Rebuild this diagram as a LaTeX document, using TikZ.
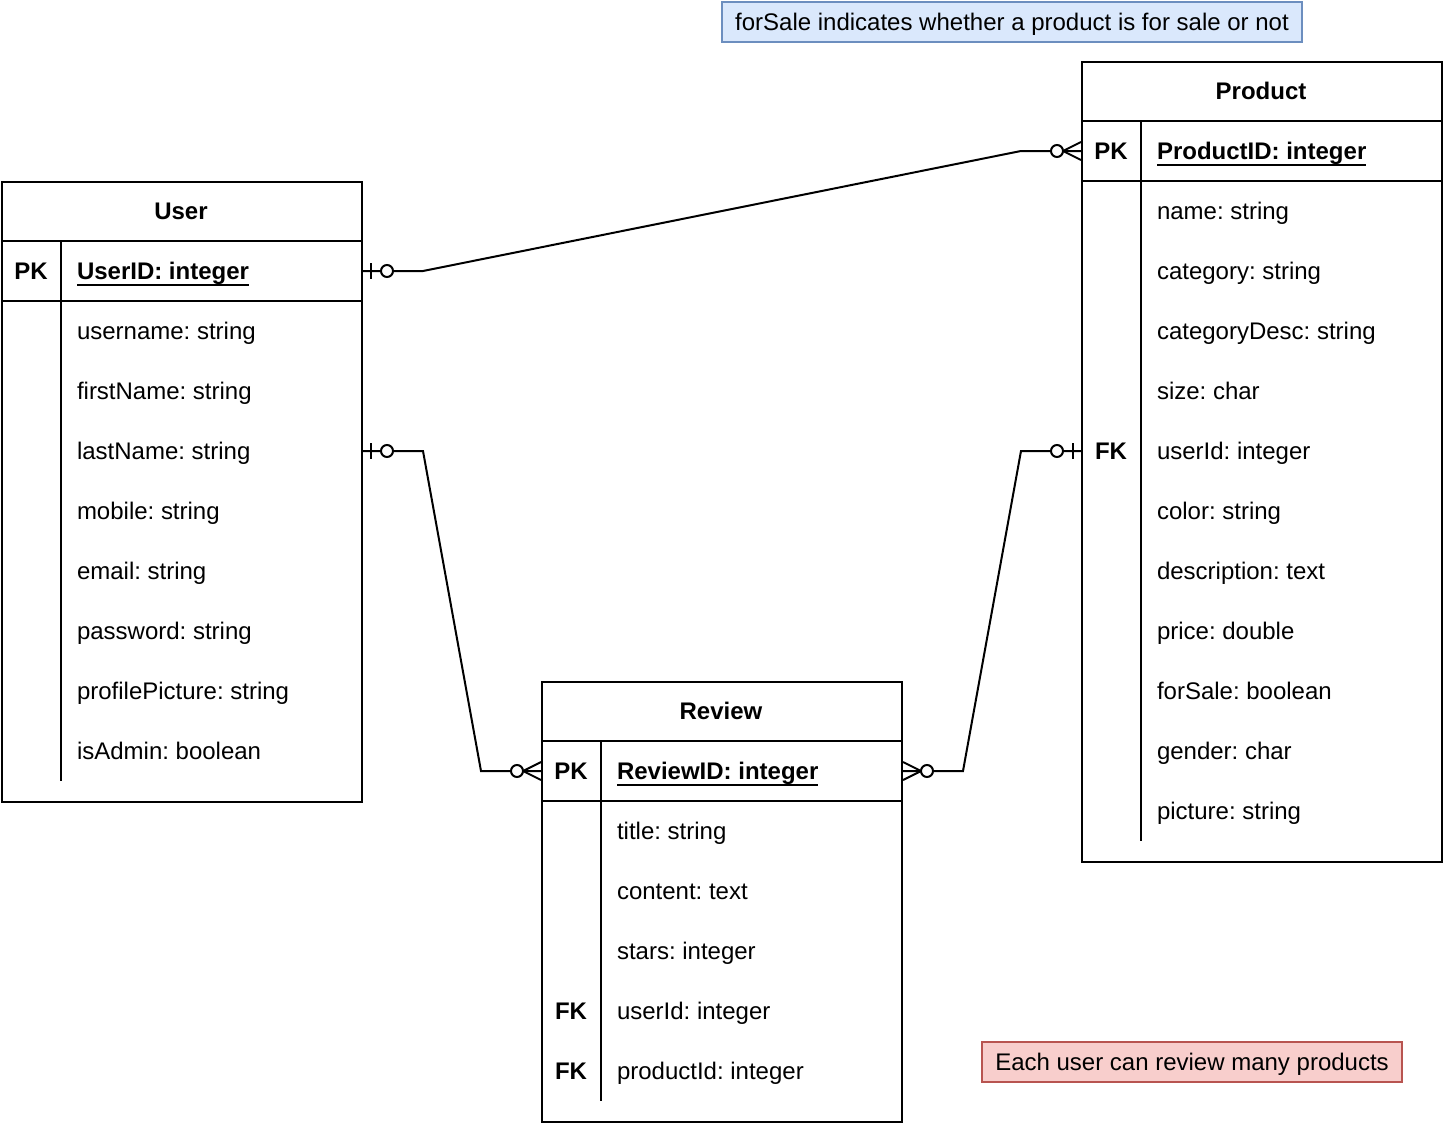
\documentclass[tikz,border=0pt]{standalone}
\usepackage{fontspec}
\setmainfont{Liberation Sans}
\usetikzlibrary{calc}
\frenchspacing
\newcommand{\ul}[1]{\setbox0=\hbox{#1}\rlap{\rule[-6pt]{\wd0}{2pt}}\box0}
\begin{document}
\begin{tikzpicture}[x=1pt,y=-1pt,line width=2pt,
  tbl/.style={draw,line width=2pt,inner sep=0pt,anchor=north west,minimum width=360pt},
  txt/.style={inner sep=0pt,font=\fontsize{24}{28}\selectfont,text height=17pt,text depth=0pt},
  fld/.style={txt,anchor=west},
  keyt/.style={txt,anchor=center,font=\fontsize{24}{28}\selectfont\bfseries},
  ttl/.style={txt,anchor=center,font=\fontsize{24}{28}\selectfont\bfseries},
  pkf/.style={txt,anchor=west,font=\fontsize{24}{28}\selectfont\bfseries},
  note/.style={draw,line width=2pt,inner sep=0pt,anchor=north west,minimum height=40pt,font=\fontsize{24}{28}\selectfont,text height=17pt,text depth=0pt},
  zo/.pic={\draw[line width=2pt] (8,-8) -- (8,8); \draw[line width=2pt,fill=white] (24,0) circle (6);},
  zm/.pic={\draw[line width=2pt] (0,-9) -- (18,0) -- (0,9); \draw[line width=2pt,fill=white] (24,0) circle (6);}
]
\useasboundingbox (0,0) rectangle (1444,1124);
% ---------- User ----------
\node[tbl,minimum height=620pt] (user) at (1,181) {};
\draw (1,241) -- (361,241);
\draw (1,301) -- (361,301);
\draw (61,241) -- (61,781);
\node[ttl] (userT) at (181,211) {User};
\node[keyt] (userPK) at (31,271) {PK};
\node[pkf] (userID) at (76,271) {\ul{UserID: integer}};
\node[fld] (u1) at (76,331) {username: string};
\node[fld] (u2) at (76,391) {firstName: string};
\node[fld] (u3) at (76,451) {lastName: string};
\node[fld] (u4) at (76,511) {mobile: string};
\node[fld] (u5) at (76,571) {email: string};
\node[fld] (u6) at (76,631) {password: string};
\node[fld] (u7) at (76,691) {profilePicture: string};
\node[fld] (u8) at (76,751) {isAdmin: boolean};
% ---------- Product ----------
\node[tbl,minimum height=800pt] (prod) at (1081,61) {};
\draw (1081,121) -- (1441,121);
\draw (1081,181) -- (1441,181);
\draw (1141,121) -- (1141,841);
\node[ttl] (prodT) at (1261,91) {Product};
\node[keyt] (prodPK) at (1111,151) {PK};
\node[pkf] (prodID) at (1156,151) {\ul{ProductID: integer}};
\node[fld] (p1) at (1156,211) {name: string};
\node[fld] (p2) at (1156,271) {category: string};
\node[fld] (p3) at (1156,331) {categoryDesc: string};
\node[fld] (p4) at (1156,391) {size: char};
\node[keyt] (prodFK) at (1111,451) {FK};
\node[fld] (p5) at (1156,451) {userId: integer};
\node[fld] (p6) at (1156,511) {color: string};
\node[fld] (p7) at (1156,571) {description: text};
\node[fld] (p8) at (1156,631) {price: double};
\node[fld] (p9) at (1156,691) {forSale: boolean};
\node[fld] (p10) at (1156,751) {gender: char};
\node[fld] (p11) at (1156,811) {picture: string};
% ---------- Review ----------
\node[tbl,minimum height=440pt] (rev) at (541,681) {};
\draw (541,741) -- (901,741);
\draw (541,801) -- (901,801);
\draw (601,741) -- (601,1101);
\node[ttl] (revT) at (721,711) {Review};
\node[keyt] (revPK) at (571,771) {PK};
\node[pkf] (revID) at (616,771) {\ul{ReviewID: integer}};
\node[fld] (r1) at (616,831) {title: string};
\node[fld] (r2) at (616,891) {content: text};
\node[fld] (r3) at (616,951) {stars: integer};
\node[keyt] (revFK1) at (571,1011) {FK};
\node[fld] (r4) at (616,1011) {userId: integer};
\node[keyt] (revFK2) at (571,1071) {FK};
\node[fld] (r5) at (616,1071) {productId: integer};
% ---------- Notes ----------
\node[note,draw={rgb,255:red,108;green,142;blue,191},fill={rgb,255:red,218;green,232;blue,252},minimum width=580pt] (note1) at (721,1) {forSale indicates whether a product is for sale or not};
\node[note,draw={rgb,255:red,184;green,84;blue,80},fill={rgb,255:red,248;green,206;blue,204},minimum width=420pt] (note2) at (981,1041) {Each user can review many products};
% ---------- Connectors ----------
\coordinate (cUpk) at (user.east |- userPK);
\coordinate (cUln) at (user.east |- u3);
\coordinate (cPpk) at (prod.west |- prodPK);
\coordinate (cPfk) at (prod.west |- prodFK);
\coordinate (cRpkL) at (rev.west |- revPK);
\coordinate (cRpkR) at (rev.east |- revPK);
\draw (cUpk) -- ++(60,0) -- ($(cPpk)+(-60,0)$) -- (cPpk);
\draw (cUln) -- ++(60,0) -- ($(cRpkL)+(-60,0)$) -- (cRpkL);
\draw (cPfk) -- ++(-60,0) -- ($(cRpkR)+(60,0)$) -- (cRpkR);
\pic at (cUpk) {zo};
\pic at (cUln) {zo};
\pic[xscale=-1] at (cPfk) {zo};
\pic[xscale=-1] at (cPpk) {zm};
\pic[xscale=-1] at (cRpkL) {zm};
\pic at (cRpkR) {zm};
\end{tikzpicture}
\end{document}
